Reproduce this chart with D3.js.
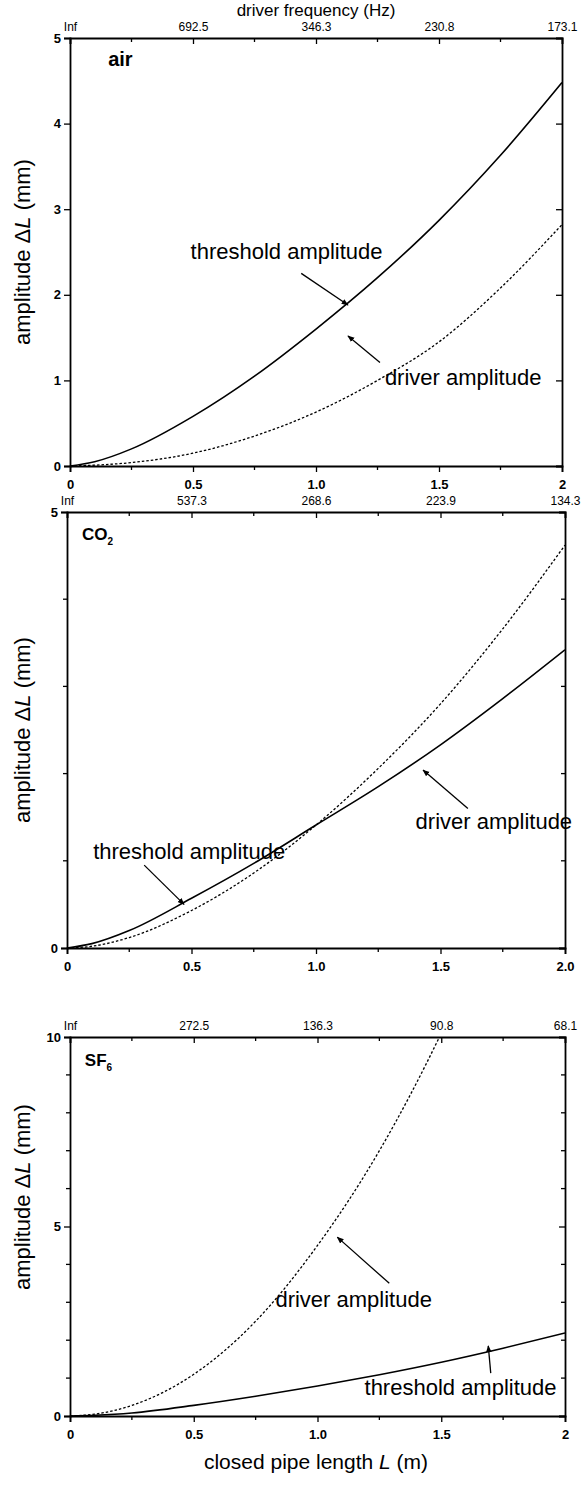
<!DOCTYPE html>
<html>
<head>
<meta charset="utf-8">
<script src="https://cdn.jsdelivr.net/npm/d3@7"></script>
<style>
  body { margin: 0; background: #fff; }
  svg { display: block; font-family: "Liberation Sans", Arial, sans-serif; }
  .tick text { font-weight: bold; font-size: 13px; }
</style>
</head>
<body>
<div id="chart"></div>
<script>
// pipe length L (m) sampled for every curve
let pipeLength = [0, 0.1, 0.25, 0.5, 0.75, 1.0, 1.25, 1.5, 1.75, 2.0];

let airThreshold = [0, 0.05, 0.2, 0.58, 1.05, 1.6, 2.2, 2.87, 3.63, 4.48];
let airDriver = [0, 0.01, 0.04, 0.15, 0.35, 0.63, 1.0, 1.45, 2.08, 2.82];
let co2Threshold = [0, 0.05, 0.2, 0.57, 0.97, 1.41, 1.85, 2.33, 2.86, 3.42];
let co2Driver = [0, 0.02, 0.12, 0.43, 0.86, 1.41, 2.06, 2.8, 3.66, 4.62];
let sf6Threshold = [0, 0.02, 0.08, 0.28, 0.52, 0.79, 1.09, 1.42, 1.79, 2.19];
let sf6Driver = [0, 0.05, 0.28, 1.1, 2.5, 4.5, 7.0, 10.1, 13.8, 18.0];

// top axis: driver frequency at L = 0, 0.5, 1, 1.5, 2
let majorL = [0, 0.5, 1.0, 1.5, 2.0];
let minorL = [0.25, 0.75, 1.25, 1.75];
let airFreq = ["Inf", "692.5", "346.3", "230.8", "173.1"];
let co2Freq = ["Inf", "537.3", "268.6", "223.9", "134.3"];
let sf6Freq = ["Inf", "272.5", "136.3", "90.8", "68.1"];

let airLengthLabels = ["0", "0.5", "1.0", "1.5", "2"];
let co2LengthLabels = ["0", "0.5", "1.0", "1.5", "2.0"];
let sf6LengthLabels = ["0", "0.5", "1.0", "1.5", "2"];

let width = 586;
let height = 1490;

let svg = d3.select('#chart').append('svg')
    .attr('width', width).attr('height', height);

let defs = svg.append('defs');
defs.append('marker')
    .attr('id', 'arrow')
    .attr('viewBox', '0 0 10 10')
    .attr('refX', 9).attr('refY', 5)
    .attr('markerWidth', 7).attr('markerHeight', 7)
    .attr('markerUnits', 'userSpaceOnUse')
    .attr('orient', 'auto')
    .append('path')
    .attr('d', 'M0,1 L10,5 L0,9 Z')
    .attr('fill', '#000');

let panels = [
    {
        id: 'air', box: { left: 70, right: 562, top: 38, bottom: 466 },
        yMax: 5, yMajor: [0, 1, 2, 3, 4, 5], yMinor: [],
        threshold: airThreshold, driver: airDriver,
        freq: airFreq, lengthLabels: airLengthLabels,
        name: 'air', nameSub: '', namePos: [0.155, 4.67], labelMid: 252,
        notes: [
            { text: 'threshold amplitude', at: [0.49, 2.42], from: [0.94, 2.25], to: [1.13, 1.88] },
            { text: 'driver amplitude', at: [1.28, 0.95], from: [1.26, 1.21], to: [1.13, 1.52] }
        ]
    },
    {
        id: 'co2', box: { left: 67, right: 565, top: 512, bottom: 948 },
        yMax: 5, yMajor: [0, 5], yMinor: [1, 2, 3, 4],
        threshold: co2Threshold, driver: co2Driver,
        freq: co2Freq, lengthLabels: co2LengthLabels,
        name: 'CO', nameSub: '2', namePos: [0.06, 4.68], labelMid: 730,
        notes: [
            { text: 'threshold amplitude', at: [0.105, 1.02], from: [0.31, 0.95], to: [0.47, 0.5] },
            { text: 'driver amplitude', at: [1.4, 1.36], from: [1.61, 1.6], to: [1.43, 2.04] }
        ]
    },
    {
        id: 'sf6', box: { left: 70, right: 565, top: 1037, bottom: 1416 },
        yMax: 10, yMajor: [0, 5, 10], yMinor: [1, 2, 3, 4, 6, 7, 8, 9],
        threshold: sf6Threshold, driver: sf6Driver,
        freq: sf6Freq, lengthLabels: sf6LengthLabels,
        name: 'SF', nameSub: '6', namePos: [0.06, 9.23], labelMid: 1197,
        notes: [
            { text: 'driver amplitude', at: [0.83, 2.88], from: [1.29, 3.5], to: [1.08, 4.72] },
            { text: 'threshold amplitude', at: [1.19, 0.55], from: [1.7, 1.13], to: [1.69, 1.85] }
        ]
    }
];

panels.forEach(p => drawPanel(p));

function drawPanel(p) {
    let b = p.box;
    let xScale = d3.scaleLinear().domain([0, 2]).range([b.left, b.right]);
    let yScale = d3.scaleLinear().domain([0, p.yMax]).range([b.bottom, b.top]);
    let g = svg.append('g').attr('id', p.id);

    defs.append('clipPath').attr('id', 'clip-' + p.id)
        .append('rect')
        .attr('x', b.left).attr('y', b.top)
        .attr('width', b.right - b.left).attr('height', b.bottom - b.top);

    // bottom axis
    let xBottom = g.append('g')
        .attr('transform', 'translate(0,' + b.bottom + ')')
        .call(d3.axisBottom(xScale).tickValues(majorL)
            .tickFormat((d, i) => p.lengthLabels[i])
            .tickSize(6).tickPadding(8));
    xBottom.append('g').selectAll('line').data(minorL).enter().append('line')
        .attr('x1', d => xScale(d)).attr('x2', d => xScale(d))
        .attr('y1', 0).attr('y2', 4).attr('stroke', '#000').attr('stroke-width', 1.3);

    // top axis, frequency labels, ticks pointing inward
    let xTop = g.append('g')
        .attr('transform', 'translate(0,' + b.top + ')')
        .call(d3.axisTop(xScale).tickValues(majorL)
            .tickFormat((d, i) => p.freq[i])
            .tickSize(-6).tickPadding(7));
    xTop.selectAll('.tick text').style('font-weight', 'normal').style('font-size', '12px');
    xTop.append('g').selectAll('line').data(minorL).enter().append('line')
        .attr('x1', d => xScale(d)).attr('x2', d => xScale(d))
        .attr('y1', 0).attr('y2', 4).attr('stroke', '#000').attr('stroke-width', 1.3);

    // left axis
    let yLeft = g.append('g')
        .attr('transform', 'translate(' + b.left + ',0)')
        .call(d3.axisLeft(yScale).tickValues(p.yMajor)
            .tickFormat(d3.format('d')).tickSize(6).tickPadding(3));
    yLeft.append('g').selectAll('line').data(p.yMinor).enter().append('line')
        .attr('y1', d => yScale(d)).attr('y2', d => yScale(d))
        .attr('x1', 0).attr('x2', -4).attr('stroke', '#000').attr('stroke-width', 1.3);

    // right axis, ticks inward, no labels
    let yRight = g.append('g')
        .attr('transform', 'translate(' + b.right + ',0)')
        .call(d3.axisRight(yScale).tickValues(p.yMajor).tickSize(-6).tickFormat(''));
    yRight.append('g').selectAll('line').data(p.yMinor).enter().append('line')
        .attr('y1', d => yScale(d)).attr('y2', d => yScale(d))
        .attr('x1', 0).attr('x2', -4).attr('stroke', '#000').attr('stroke-width', 1.3);

    g.selectAll('.domain').attr('stroke-width', 1.8);
    g.selectAll('.tick line').attr('stroke-width', 1.3);
    g.selectAll('.tick text').attr('fill', '#000');

    // y axis title
    let ty = g.append('text')
        .attr('transform', 'translate(' + 30 + ',' + p.labelMid + ') rotate(-90)')
        .attr('text-anchor', 'middle')
        .style('font-size', '22px');
    ty.append('tspan').text('amplitude \u0394');
    ty.append('tspan').style('font-style', 'italic').text('L');
    ty.append('tspan').text(' (mm)');

    // curves
    let line = d3.line()
        .x((d, i) => xScale(pipeLength[i]))
        .y(d => yScale(d))
        .curve(d3.curveMonotoneX);
    let curves = g.append('g').attr('clip-path', 'url(#clip-' + p.id + ')');
    curves.append('path')
        .attr('d', line(p.threshold))
        .attr('fill', 'none').attr('stroke', '#000').attr('stroke-width', 1.6);
    curves.append('path')
        .attr('d', line(p.driver))
        .attr('fill', 'none').attr('stroke', '#000').attr('stroke-width', 1.3)
        .attr('stroke-dasharray', '2.5,2');

    // gas name
    let nm = g.append('text')
        .attr('x', xScale(p.namePos[0])).attr('y', yScale(p.namePos[1]))
        .style('font-weight', 'bold').style('font-size', p.nameSub ? '17px' : '20px');
    nm.append('tspan').text(p.name);
    if (p.nameSub) {
        nm.append('tspan').attr('dy', 5).style('font-size', '10px').text(p.nameSub);
    }

    // annotations
    p.notes.forEach(n => {
        g.append('text')
            .attr('x', xScale(n.at[0])).attr('y', yScale(n.at[1]))
            .style('font-size', '22px')
            .text(n.text);
        g.append('line')
            .attr('x1', xScale(n.from[0])).attr('y1', yScale(n.from[1]))
            .attr('x2', xScale(n.to[0])).attr('y2', yScale(n.to[1]))
            .attr('stroke', '#000').attr('stroke-width', 1.3)
            .attr('marker-end', 'url(#arrow)');
    });
}

// top and bottom titles
svg.append('text')
    .attr('x', 316).attr('y', 16)
    .attr('text-anchor', 'middle')
    .style('font-size', '17px')
    .text('driver frequency (Hz)');

let bt = svg.append('text')
    .attr('x', 316).attr('y', 1469)
    .attr('text-anchor', 'middle')
    .style('font-size', '21px');
bt.append('tspan').text('closed pipe length ');
bt.append('tspan').style('font-style', 'italic').text('L');
bt.append('tspan').text(' (m)');
</script>
</body>
</html>
